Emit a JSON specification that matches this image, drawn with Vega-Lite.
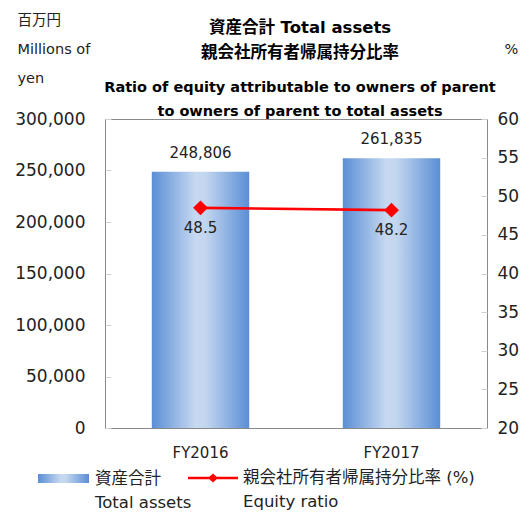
{
  "$schema": "https://vega.github.io/schema/vega-lite/v6.json",
  "autosize": {"type": "none"},
  "padding": {"left": 105, "top": 119, "right": 44, "bottom": 85},
  "width": 382,
  "height": 309,
  "background": "white",
  "config": {
    "font": "DejaVu Sans, Noto Sans CJK JP",
    "view": {"stroke": "#898989", "strokeWidth": 1},
    "style": {"guide-label": {"lineHeight": 24}}
  },
  "title": {
    "text": ["資産合計 Total assets", "親会社所有者帰属持分比率"],
    "subtitle": ["Ratio of equity attributable to owners of parent", "to owners of parent to total assets"],
    "fontSize": 16.5,
    "fontWeight": "bold",
    "subtitleFontSize": 14.5,
    "subtitleFontWeight": "bold",
    "subtitleColor": "#000000",
    "color": "#000000",
    "lineHeight": 25,
    "subtitleLineHeight": 24,
    "subtitlePadding": 19,
    "anchor": "middle",
    "dx": 4,
    "dy": 110
  },
  "data": {
    "values": [
      {"year": "FY2016", "assets": 248806, "ratio": 48.5, "s1": "資産合計", "s2": "親会社所有者帰属持分比率 (%)"},
      {"year": "FY2017", "assets": 261835, "ratio": 48.2, "s1": "資産合計", "s2": "親会社所有者帰属持分比率 (%)"}
    ]
  },
  "encoding": {
    "x": {
      "field": "year", "type": "nominal",
      "scale": {"paddingInner": 0.49, "paddingOuter": 0.245},
      "axis": {"title": null, "labelAngle": 0, "ticks": false, "domain": false, "labelPadding": 17, "labelFontSize": 15, "labelColor": "#222222"}
    }
  },
  "layer": [
    {
      "encoding": {
        "y": {
          "field": "assets", "type": "quantitative",
          "scale": {"domain": [0, 300000], "nice": false},
          "axis": {
            "orient": "left", "values": [0, 50000, 100000, 150000, 200000, 250000, 300000], "format": ",.0f",
            "grid": false, "domain": false, "tickColor": "#D0D0D0", "tickSize": -6, "labelPadding": 26,
            "labelFontSize": 17, "labelColor": "#222222",
            "title": ["百万円", "Millions of", "yen"], "titleAngle": 0, "titleAlign": "left", "titleBaseline": "alphabetic",
            "titleX": -88, "titleY": -95, "titleLineHeight": 29, "titleFontSize": 14.5, "titleFontWeight": "normal", "titleColor": "#222222"
          }
        }
      },
      "layer": [
        {
          "mark": {"type": "bar", "fill": {"gradient": "linear", "x1": 0, "y1": 0, "x2": 1, "y2": 0, "stops": [
                {"offset": 0, "color": "#5A8ED5"}, {"offset": 0.45, "color": "#C7D9F1"}, {"offset": 0.55, "color": "#C3D6EF"}, {"offset": 1, "color": "#5A8ED5"}]}},
          "encoding": {
            "opacity": {
              "field": "s1", "type": "ordinal",
              "scale": {"range": [1, 1]},
              "legend": {
                "orient": "none", "legendX": -67, "legendY": 334, "title": null, "padding": 0,
                "symbolType": "M-1,-0.176L1,-0.176L1,0.176L-1,0.176Z", "symbolSize": 2601, "symbolStrokeWidth": 0,
                "labelOffset": 6, "labelFontSize": 16.5, "labelColor": "#222222", "labelLimit": 400, "labelBaseline": "middle",
                "labelExpr": "['資産合計', '\u00a0\u00a0Total assets']"
              }
            }
          }
        },
        {
          "mark": {"type": "text", "baseline": "bottom", "dy": -11, "fontSize": 15, "color": "#222222"},
          "encoding": {"text": {"field": "assets", "type": "quantitative", "format": ",.0f"}}
        }
      ]
    },
    {
      "encoding": {
        "y": {
          "field": "ratio", "type": "quantitative",
          "scale": {"domain": [20, 60], "nice": false},
          "axis": {
            "orient": "right", "values": [20, 25, 30, 35, 40, 45, 50, 55, 60],
            "grid": false, "domain": false, "tickColor": "#D0D0D0", "tickSize": -6, "labelPadding": 16,
            "labelFontSize": 17, "labelColor": "#222222",
            "title": "%", "titleAngle": 0, "titleAlign": "center", "titleBaseline": "alphabetic",
            "titleX": 24, "titleY": -66, "titleFontSize": 14.5, "titleFontWeight": "normal", "titleColor": "#222222"
          }
        }
      },
      "layer": [
        {
          "mark": {"type": "line", "strokeWidth": 2.7},
          "encoding": {
            "stroke": {
              "field": "s2", "type": "nominal",
              "scale": {"range": ["#FF0000"]},
              "legend": {
                "orient": "none", "legendX": 83, "legendY": 334, "title": null, "padding": 0,
                "symbolType": "M-1,-0.054L1,-0.054L1,0.054L-1,0.054Z M-0.2,0L0,-0.18L0.2,0L0,0.18Z",
                "symbolSize": 2500, "symbolFillColor": "#FF0000", "symbolStrokeWidth": 0,
                "labelOffset": 5, "labelFontSize": 16.5, "labelColor": "#222222", "labelLimit": 400, "labelBaseline": "middle",
                "labelExpr": "['親会社所有者帰属持分比率 (%)', '\u00a0\u00a0Equity ratio']"
              }
            }
          }
        },
        {
          "mark": {"type": "point", "shape": "diamond", "filled": true, "size": 220, "color": "#FF0000", "opacity": 1}
        },
        {
          "mark": {"type": "text", "baseline": "top", "dy": 13, "fontSize": 15, "color": "#222222"},
          "encoding": {"text": {"field": "ratio", "type": "quantitative", "format": ".1f"}}
        }
      ]
    }
  ],
  "resolve": {"scale": {"y": "independent", "opacity": "independent", "stroke": "independent"}}
}
